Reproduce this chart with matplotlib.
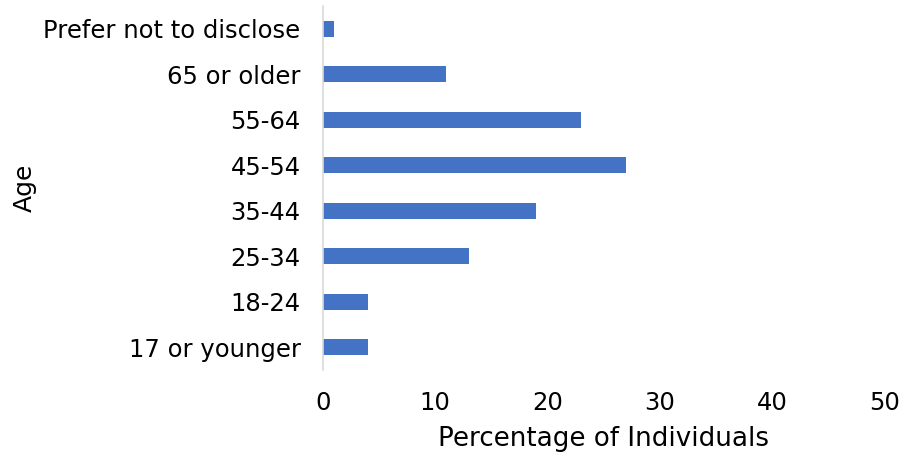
import matplotlib.pyplot as plt

# Dados do gráfico
faixas = ['17 or younger', '18-24', '25-34', '35-44', '45-54', '55-64',
          '65 or older', 'Prefer not to disclose']
percentuais = [4, 4, 13, 19, 27, 23, 11, 1]
ticks_x = [0, 10, 20, 30, 40, 50]


def gerar_grafico():
    fig = plt.figure(figsize=(9.04, 4.57), dpi=100)
    ax = fig.add_axes([0.357, 0.19, 0.622, 0.797])

    ax.barh(faixas, percentuais, height=0.35, color='#4472C4')

    ax.set_xlim(0, 50)
    ax.set_ylim(-0.5, len(faixas) - 0.5)
    ax.set_xticks(ticks_x)

    for lado in ['top', 'right', 'bottom']:
        ax.spines[lado].set_visible(False)
    ax.spines['left'].set_color('#D9D9D9')
    ax.spines['left'].set_linewidth(1.2)
    ax.tick_params(length=0, labelsize=17.5, colors='black')
    ax.tick_params(axis='x', pad=15)
    ax.tick_params(axis='y', pad=16)

    ax.set_xlabel('Percentage of Individuals', fontsize=18.8, labelpad=8)
    ax.set_ylabel('Age', fontsize=18, labelpad=5)

    plt.savefig('out.png', dpi=100)


if __name__ == "__main__":
    gerar_grafico()
